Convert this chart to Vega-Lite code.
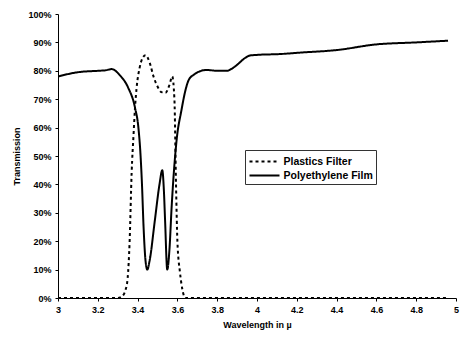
{
  "$schema": "https://vega.github.io/schema/vega-lite/v6.json",
  "width": 398,
  "height": 284,
  "autosize": "none",
  "padding": {"left": 58, "top": 14, "right": 4, "bottom": 39},
  "background": "white",
  "config": {
    "view": {"stroke": null},
    "font": "Liberation Sans",
    "axis": {"labelFont": "Liberation Sans", "labelFontWeight": "bold", "labelFontSize": 9, "labelColor": "black", "titleFont": "Liberation Sans", "titleFontWeight": "bold", "titleFontSize": 9, "titleColor": "black", "domainColor": "black", "tickColor": "black", "grid": false, "tickSize": 3}
  },
  "data": {"values": [
    {"w": 3.0, "t": 0, "s": "Plastics Filter"},
    {"w": 3.3, "t": 0, "s": "Plastics Filter"},
    {"w": 3.32, "t": 0.005, "s": "Plastics Filter"},
    {"w": 3.34, "t": 0.03, "s": "Plastics Filter"},
    {"w": 3.35, "t": 0.07, "s": "Plastics Filter"},
    {"w": 3.36, "t": 0.2, "s": "Plastics Filter"},
    {"w": 3.37, "t": 0.44, "s": "Plastics Filter"},
    {"w": 3.38, "t": 0.58, "s": "Plastics Filter"},
    {"w": 3.387, "t": 0.67, "s": "Plastics Filter"},
    {"w": 3.395, "t": 0.74, "s": "Plastics Filter"},
    {"w": 3.41, "t": 0.81, "s": "Plastics Filter"},
    {"w": 3.425, "t": 0.845, "s": "Plastics Filter"},
    {"w": 3.44, "t": 0.855, "s": "Plastics Filter"},
    {"w": 3.46, "t": 0.83, "s": "Plastics Filter"},
    {"w": 3.48, "t": 0.78, "s": "Plastics Filter"},
    {"w": 3.50, "t": 0.745, "s": "Plastics Filter"},
    {"w": 3.52, "t": 0.725, "s": "Plastics Filter"},
    {"w": 3.54, "t": 0.723, "s": "Plastics Filter"},
    {"w": 3.56, "t": 0.75, "s": "Plastics Filter"},
    {"w": 3.574, "t": 0.78, "s": "Plastics Filter"},
    {"w": 3.585, "t": 0.70, "s": "Plastics Filter"},
    {"w": 3.593, "t": 0.40, "s": "Plastics Filter"},
    {"w": 3.60, "t": 0.20, "s": "Plastics Filter"},
    {"w": 3.613, "t": 0.09, "s": "Plastics Filter"},
    {"w": 3.625, "t": 0.03, "s": "Plastics Filter"},
    {"w": 3.64, "t": 0.0, "s": "Plastics Filter"},
    {"w": 4.96, "t": 0.0, "s": "Plastics Filter"},
    {"w": 3.0, "t": 0.78, "s": "Polyethylene Film"},
    {"w": 3.1, "t": 0.795, "s": "Polyethylene Film"},
    {"w": 3.2, "t": 0.80, "s": "Polyethylene Film"},
    {"w": 3.24, "t": 0.802, "s": "Polyethylene Film"},
    {"w": 3.27, "t": 0.806, "s": "Polyethylene Film"},
    {"w": 3.31, "t": 0.785, "s": "Polyethylene Film"},
    {"w": 3.353, "t": 0.74, "s": "Polyethylene Film"},
    {"w": 3.387, "t": 0.67, "s": "Polyethylene Film"},
    {"w": 3.404, "t": 0.60, "s": "Polyethylene Film"},
    {"w": 3.415, "t": 0.50, "s": "Polyethylene Film"},
    {"w": 3.422, "t": 0.40, "s": "Polyethylene Film"},
    {"w": 3.43, "t": 0.25, "s": "Polyethylene Film"},
    {"w": 3.44, "t": 0.13, "s": "Polyethylene Film"},
    {"w": 3.449, "t": 0.10, "s": "Polyethylene Film"},
    {"w": 3.46, "t": 0.13, "s": "Polyethylene Film"},
    {"w": 3.487, "t": 0.275, "s": "Polyethylene Film"},
    {"w": 3.51, "t": 0.40, "s": "Polyethylene Film"},
    {"w": 3.524, "t": 0.45, "s": "Polyethylene Film"},
    {"w": 3.532, "t": 0.38, "s": "Polyethylene Film"},
    {"w": 3.538, "t": 0.275, "s": "Polyethylene Film"},
    {"w": 3.549, "t": 0.10, "s": "Polyethylene Film"},
    {"w": 3.56, "t": 0.17, "s": "Polyethylene Film"},
    {"w": 3.571, "t": 0.32, "s": "Polyethylene Film"},
    {"w": 3.596, "t": 0.556, "s": "Polyethylene Film"},
    {"w": 3.62, "t": 0.66, "s": "Polyethylene Film"},
    {"w": 3.64, "t": 0.73, "s": "Polyethylene Film"},
    {"w": 3.655, "t": 0.765, "s": "Polyethylene Film"},
    {"w": 3.68, "t": 0.785, "s": "Polyethylene Film"},
    {"w": 3.747, "t": 0.803, "s": "Polyethylene Film"},
    {"w": 3.80, "t": 0.80, "s": "Polyethylene Film"},
    {"w": 3.848, "t": 0.80, "s": "Polyethylene Film"},
    {"w": 3.875, "t": 0.808, "s": "Polyethylene Film"},
    {"w": 3.898, "t": 0.82, "s": "Polyethylene Film"},
    {"w": 3.94, "t": 0.845, "s": "Polyethylene Film"},
    {"w": 3.965, "t": 0.854, "s": "Polyethylene Film"},
    {"w": 4.0, "t": 0.856, "s": "Polyethylene Film"},
    {"w": 4.116, "t": 0.859, "s": "Polyethylene Film"},
    {"w": 4.216, "t": 0.864, "s": "Polyethylene Film"},
    {"w": 4.4, "t": 0.873, "s": "Polyethylene Film"},
    {"w": 4.6, "t": 0.893, "s": "Polyethylene Film"},
    {"w": 4.8, "t": 0.90, "s": "Polyethylene Film"},
    {"w": 4.96, "t": 0.906, "s": "Polyethylene Film"}
  ]},
  "mark": {"type": "line", "color": "black", "strokeWidth": 2, "interpolate": "monotone", "clip": true},
  "encoding": {
    "x": {"field": "w", "type": "quantitative", "scale": {"domain": [3, 5], "nice": false, "zero": false},
      "axis": {"values": [3, 3.2, 3.4, 3.6, 3.8, 4, 4.2, 4.4, 4.6, 4.8, 5], "format": "~g", "title": "Wavelength in \u00b5", "labelPadding": 4, "titlePadding": 6, "labelFlush": false}},
    "y": {"field": "t", "type": "quantitative", "scale": {"domain": [0, 1], "nice": false},
      "axis": {"values": [0, 0.1, 0.2, 0.3, 0.4, 0.5, 0.6, 0.7, 0.8, 0.9, 1], "format": ".0%", "title": "Transmission", "labelPadding": 4, "titlePadding": 6}},
    "strokeDash": {"field": "s", "type": "nominal",
      "scale": {"domain": ["Plastics Filter", "Polyethylene Film"], "range": [[3, 3], [1, 0]]},
      "legend": {"orient": "none", "legendX": 187, "legendY": 136, "title": null, "strokeColor": "#333", "padding": 3, "symbolType": "M-2,0H2", "symbolSize": 225, "symbolOffset": 8, "symbolStrokeWidth": 2, "symbolStrokeColor": "black", "symbolFillColor": "transparent", "labelFont": "Liberation Sans", "labelFontWeight": "bold", "labelFontSize": 10.5, "labelColor": "black", "labelOffset": 10.5, "rowPadding": 0, "fillColor": "white"}}
  }
}
